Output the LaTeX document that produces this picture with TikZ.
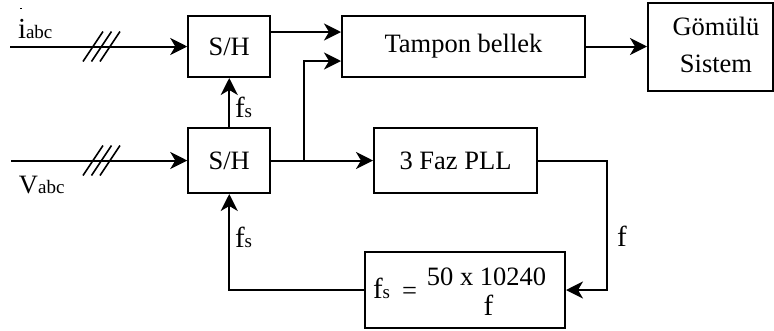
\documentclass[tikz,border=0pt]{standalone}
\usepackage{fontspec}
\setmainfont{Liberation Serif}
\usetikzlibrary{arrows.meta}
\newcommand\mysub[1]{{\fontsize{19}{21}\selectfont #1}}
\begin{document}
\begin{tikzpicture}[x=1pt,y=-1pt,
  line width=2pt,
  box/.style={draw, line width=2pt, inner sep=0pt, font=\fontsize{26.5}{30}\selectfont},
  lbl/.style={inner sep=0pt, font=\fontsize{26.5}{30}\selectfont},
  flbl/.style={inner sep=0pt, font=\fontsize{29}{32}\selectfont},
  arr/.style={-{Stealth[length=17pt,width=17pt,inset=5pt]}},
  slash/.style={line width=1.6pt}
]
\useasboundingbox (0,0) rectangle (774,330);

% boxes
\node[box, minimum width=82pt, minimum height=61pt] (shtop) at (229.25,46.5) {S/H};
\node[box, minimum width=82pt, minimum height=65pt] (shbot) at (229.25,160.5) {S/H};
\node[box, minimum width=243pt, minimum height=61pt] (tampon) at (463.5,46.5) {Tampon bellek};
\node[box, minimum width=125pt, minimum height=88pt] (gomulu) at (710.5,46.5) {};
\node[lbl, anchor=base] (g1) at (716,35) {Gömülü};
\node[lbl, anchor=base] (g2) at (716,72) {Sistem};
\node[box, minimum width=163pt, minimum height=65pt] (pll) at (455.5,160.5) {3 Faz PLL};
\node[box, minimum width=200pt, minimum height=76pt] (formula) at (465,290) {};
\node[flbl, anchor=base west] (ffs) at (372,298) {f\mysub{s}};
\node[lbl, anchor=base west] (feq) at (401,299) {=};
\node[lbl, anchor=base] (fnum) at (486.5,285) {50 x 10240};
\node[flbl, anchor=base] (fden) at (488.5,315) {f};

% inputs
\coordinate (iin) at (10,46.5);
\coordinate (vin) at (11,160.5);
\draw[arr] (iin) -- (iin -| shtop.west);
\draw[arr] (vin) -- (vin -| shbot.west);
\coordinate (s1) at (93,46.5);
\coordinate (s2) at (93,160.5);
\foreach \dx in {0,8.5,17} {
  \draw[slash] ([xshift=\dx pt]s1) ++(-10,15) -- ++(20,-30);
  \draw[slash] ([xshift=\dx pt]s2) ++(-10,15) -- ++(20,-30);
}
\node[flbl, anchor=base west] (ilbl) at (17,38) {i\mysub{abc}};
\fill (19.5,7.5) rectangle (22,9);
\node[lbl, anchor=base west] (vlbl) at (18,193) {V\mysub{abc}};

% connectors
\draw[arr] (shbot.north) -- (shtop.south);
\node[flbl, anchor=base west] (fs1) at (234,117) {f\mysub{s}};
\draw[arr] ([yshift=14.5pt]shtop.east) -- ([yshift=14.5pt]tampon.west);
\coordinate (b1) at (304,160.5);
\draw[arr] (shbot.east) -- (pll.west);
\draw[arr] (b1) |- ([yshift=-14.5pt]tampon.west);
\draw[arr] (tampon.east) -- (gomulu.west);
\coordinate (c1) at (607,290);
\draw[arr] (pll.east) -- (c1 |- pll.east) -- (c1) -- (formula.east);
\node[flbl, anchor=base west] (flbl) at (616,246) {f};
\draw[arr] (formula.west) -| (shbot.south);
\node[flbl, anchor=base west] (fs2) at (234,247) {f\mysub{s}};
\end{tikzpicture}
\end{document}
